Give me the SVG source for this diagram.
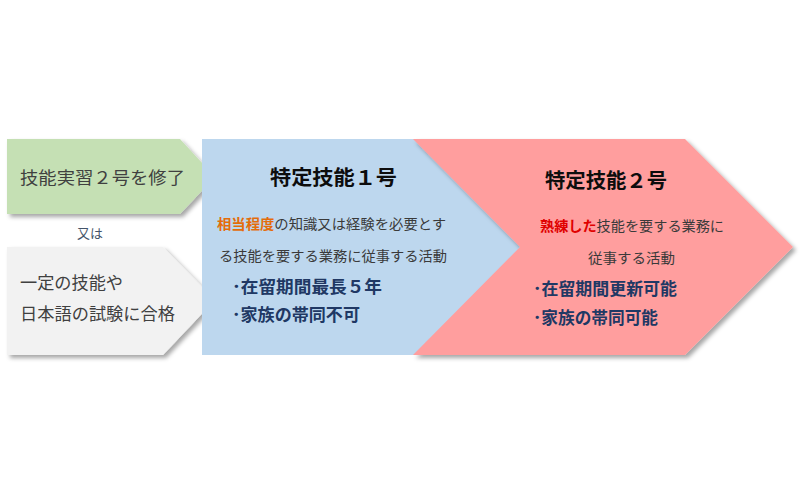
<svg xmlns="http://www.w3.org/2000/svg" width="800" height="500" viewBox="0 0 800 500">
<defs>
<filter id="sh" x="-10%" y="-10%" width="130%" height="130%">
<feDropShadow dx="3" dy="3" stdDeviation="2" flood-color="#000" flood-opacity="0.35"/>
</filter>
</defs>
<style>
text{font-family:"Noto Sans CJK JP","Noto Sans",sans-serif;}
.body{fill:#3a3a3a;font-size:14px;}
.lead{fill:#404040;font-size:17px;}
.title{fill:#0d0d0d;font-size:20px;font-weight:bold;}
.bul{fill:#203864;font-size:17px;font-weight:bold;}
.org{fill:#E46C0A;font-weight:bold;}
.red{fill:#E00000;font-weight:bold;}
</style>
<rect width="800" height="500" fill="#ffffff"/>
<g id="connectors"></g>
<g id="node-green">
<polygon points="7,139 180,139 215,177 180,214 7,214" fill="#C5E0B4" filter="url(#sh)"/>
<text class="lead" x="20" y="184" font-size="18" textLength="165" lengthAdjust="spacingAndGlyphs">技能実習２号を修了</text>
</g>
<g id="label-or">
<text x="90" y="238" text-anchor="middle" font-size="13" fill="#44546A">又は</text>
</g>
<g id="node-gray">
<polygon points="7,247 163,247 215,300 163,355 7,355" fill="#F2F2F2" filter="url(#sh)"/>
<text class="lead" x="20" y="288.5" textLength="103" lengthAdjust="spacingAndGlyphs">一定の技能や</text>
<text class="lead" x="20" y="319.5" textLength="155" lengthAdjust="spacingAndGlyphs">日本語の試験に合格</text>
</g>
<g id="node-tokutei1">
<rect x="202" y="139" width="318" height="216" fill="#BDD7EE"/>
<text class="title" x="270" y="185" font-size="21" textLength="127" lengthAdjust="spacingAndGlyphs">特定技能１号</text>
<text class="body" x="217" y="228.5" textLength="229" lengthAdjust="spacingAndGlyphs"><tspan class="org">相当程度</tspan>の知識又は経験を必要とす</text>
<text class="body" x="219" y="260.5" textLength="228" lengthAdjust="spacingAndGlyphs">る技能を要する業務に従事する活動</text>
<text class="bul" x="232" y="293" textLength="150" lengthAdjust="spacingAndGlyphs">･在留期間最長５年</text>
<text class="bul" x="232" y="321" textLength="128" lengthAdjust="spacingAndGlyphs">･家族の帯同不可</text>
</g>
<g id="node-tokutei2">
<polygon points="413,139 685,139 793,247 685,355 413,355 520,247" fill="#FF9E9E" filter="url(#sh)"/>
<text class="title" x="545" y="187.5" textLength="122" lengthAdjust="spacingAndGlyphs">特定技能２号</text>
<text class="body" x="540" y="230.5" textLength="184" lengthAdjust="spacingAndGlyphs"><tspan class="red">熟練した</tspan>技能を要する業務に</text>
<text class="body" x="588" y="262.5" textLength="87" lengthAdjust="spacingAndGlyphs">従事する活動</text>
<text class="bul" x="533" y="294.5" textLength="144" lengthAdjust="spacingAndGlyphs">･在留期間更新可能</text>
<text class="bul" x="533" y="323.5" textLength="125" lengthAdjust="spacingAndGlyphs">･家族の帯同可能</text>
</g>
</svg>
